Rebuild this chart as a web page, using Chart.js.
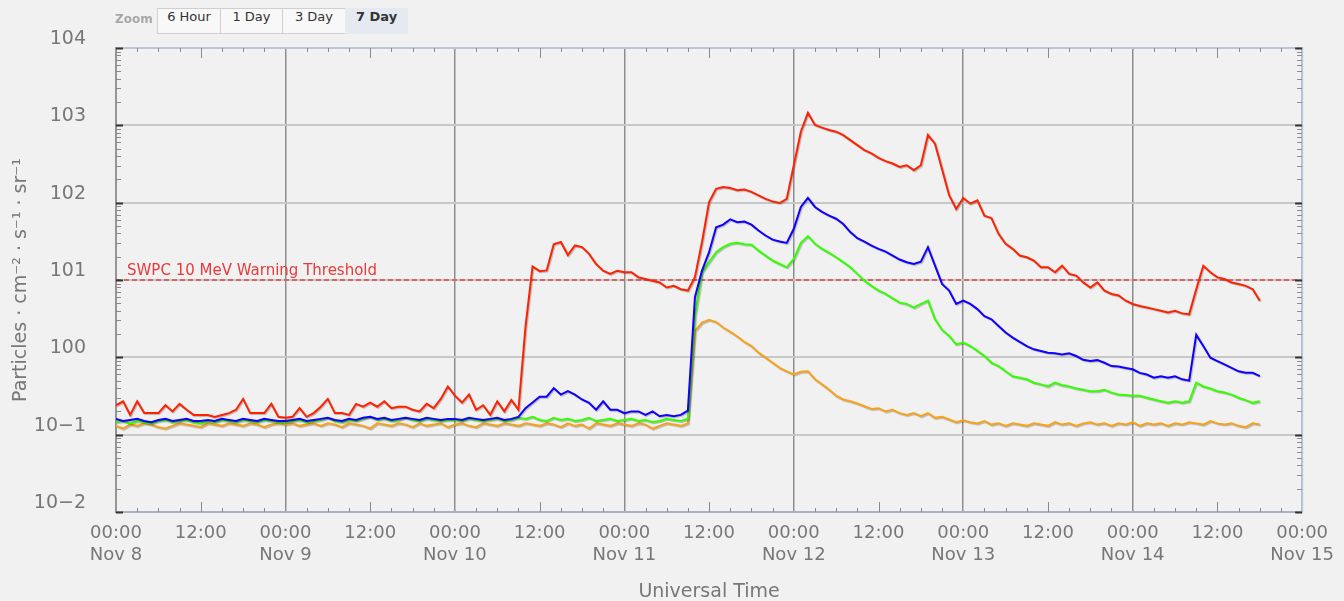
<!DOCTYPE html>
<html>
<head>
<meta charset="utf-8">
<script src="https://cdn.jsdelivr.net/npm/chart.js@4.4.1/dist/chart.umd.min.js"></script>
<style>
    html, body { margin: 0; padding: 0; background: #f1f1f1; }
    #wrap { position: relative; width: 1344px; height: 601px; overflow: hidden; }
    #myChart { position: absolute; left: 0; top: 0; }
    .zoom { position: absolute; left: 115px; top: 12px; font: bold 12px "DejaVu Sans", sans-serif; color: #a6a6a6; }
    .btns { position: absolute; left: 158px; top: 8px; display: flex; }
    .btns span { box-sizing: border-box; height: 26px; line-height: 24px; text-align: center;
                 font: 13px "DejaVu Sans", sans-serif; color: #333; background: #f8f8f8;
                 border: 1px solid #cfcfcf; margin-left: -1px; }
    .btns span.on { background: #e5e9f1; font-weight: bold; border-color: #e5e9f1; }
</style>
</head>
<body>
<div id="wrap">
    <canvas id="myChart" width="1344" height="601"></canvas>
    <div class="zoom">Zoom</div>
    <div class="btns">
        <span style="width:64px">6 Hour</span>
        <span style="width:63px">1 Day</span>
        <span style="width:64px">3 Day</span>
        <span class="on" style="width:63px">7 Day</span>
    </div>
</div>
<script>
// hourly flux readings, starting Nov 8 00:00 UT (one value per hour)
const days = ['Nov 8', 'Nov 9', 'Nov 10', 'Nov 11', 'Nov 12', 'Nov 13', 'Nov 14', 'Nov 15'];
const decades = [-2, -1, 0, 1, 2, 3, 4];
const threshold = 10;
const thresholdLabel = 'SWPC 10 MeV Warning Threshold';

const p10 = [
    0.24,0.27,0.18,0.27,0.19,0.19,0.19,0.24,0.20,0.25,0.21,0.18,0.18,0.18,0.17,0.18,0.19,0.21,0.29,0.19,0.19,0.19,0.25,0.17,
    0.165,0.17,0.22,0.17,0.19,0.23,0.29,0.19,0.19,0.18,0.25,0.23,0.26,0.23,0.27,0.22,0.23,0.23,0.21,0.20,0.25,0.22,0.29,0.42,
    0.32,0.26,0.33,0.21,0.24,0.18,0.27,0.20,0.28,0.21,2.5,15,13,13.3,29,31,21,28,26.6,21.8,16.1,13.2,12.0,13.2,
    12.6,12.6,10.8,10.3,9.8,9.3,8.0,8.4,7.6,7.3,10.9,31,102,151,159,155,145,148,138,124,112,104,99,112,
    305,828,1450,1010,933,869,828,748,645,555,478,433,380,344,321,290,305,263,305,750,580,270,125,83,
    115,97,107,68,63,39.5,29.4,25.3,20.7,19.7,17.8,14.6,14.6,12.6,15.3,12,11.4,9.3,8.0,9.3,7.3,6.6,6.3,5.4,
    4.9,4.6,4.4,4.2,4.0,3.8,4.0,3.7,3.6,7.6,15.3,12.6,10.8,10.3,9.3,8.9,8.4,7.6,5.4
];
const p50 = [
    0.16,0.15,0.155,0.16,0.15,0.145,0.155,0.16,0.15,0.155,0.16,0.15,0.15,0.155,0.15,0.16,0.155,0.15,0.16,0.155,0.15,0.16,0.155,0.15,
    0.15,0.155,0.16,0.15,0.155,0.16,0.165,0.155,0.15,0.16,0.155,0.165,0.17,0.16,0.165,0.155,0.16,0.165,0.16,0.155,0.165,0.16,0.155,0.16,
    0.16,0.155,0.165,0.16,0.155,0.16,0.165,0.155,0.16,0.17,0.22,0.26,0.31,0.31,0.40,0.33,0.365,0.33,0.285,0.258,0.21,0.27,0.21,0.21,
    0.19,0.2,0.2,0.18,0.2,0.173,0.18,0.173,0.18,0.205,6,13.2,22.9,48,52,61,56,57,52,43.6,37.6,33.3,31.4,30.2,
    46,88,115,88,76,68,62,53,41.7,34.7,31.4,27.9,25.3,23.3,20.7,18.4,17,16.1,17.3,26.6,15.3,8.9,7.3,4.9,
    5.4,4.9,4.2,3.4,3.1,2.55,2.09,1.80,1.58,1.40,1.27,1.21,1.15,1.13,1.09,1.13,1.04,0.93,0.895,0.92,0.85,0.77,0.76,0.73,
    0.70,0.63,0.60,0.545,0.57,0.545,0.57,0.52,0.50,1.95,1.40,0.99,0.895,0.81,0.73,0.66,0.63,0.63,0.57
];
const p100 = [
    0.145,0.15,0.14,0.15,0.145,0.14,0.15,0.155,0.145,0.15,0.155,0.145,0.14,0.15,0.145,0.155,0.15,0.145,0.155,0.15,0.145,0.155,0.15,0.145,
    0.145,0.15,0.155,0.145,0.15,0.155,0.165,0.15,0.145,0.155,0.15,0.16,0.17,0.155,0.16,0.15,0.155,0.165,0.155,0.15,0.16,0.155,0.15,0.155,
    0.155,0.15,0.16,0.155,0.15,0.155,0.16,0.15,0.155,0.165,0.16,0.17,0.155,0.15,0.165,0.155,0.16,0.15,0.155,0.165,0.15,0.155,0.16,0.15,
    0.155,0.16,0.15,0.155,0.145,0.15,0.16,0.155,0.15,0.16,3.4,12.5,17,22.9,26.6,29.4,30.2,29,28.5,24,20.7,17.8,16.1,14.6,
    18.7,30.2,36.9,29.4,25.3,22.4,19.7,17,14.6,12.0,9.8,8.4,7.3,6.6,5.8,5.1,4.9,4.4,4.9,5.4,3.1,2.26,1.89,1.47,
    1.55,1.40,1.21,1.04,0.85,0.77,0.66,0.57,0.545,0.52,0.47,0.447,0.42,0.47,0.436,0.42,0.395,0.38,0.365,0.365,0.38,0.35,0.33,0.325,
    0.318,0.318,0.30,0.285,0.27,0.258,0.27,0.258,0.27,0.47,0.42,0.395,0.365,0.35,0.33,0.30,0.28,0.258,0.27
];
const p500 = [
    0.13,0.12,0.135,0.13,0.14,0.135,0.125,0.12,0.13,0.14,0.135,0.13,0.125,0.14,0.135,0.13,0.14,0.135,0.13,0.14,0.135,0.125,0.135,0.14,
    0.135,0.14,0.13,0.135,0.14,0.13,0.14,0.135,0.125,0.14,0.135,0.13,0.12,0.14,0.135,0.13,0.14,0.135,0.125,0.14,0.13,0.135,0.14,0.125,
    0.135,0.14,0.13,0.125,0.14,0.135,0.13,0.14,0.135,0.13,0.14,0.135,0.13,0.14,0.135,0.125,0.14,0.13,0.135,0.12,0.14,0.135,0.13,0.14,
    0.135,0.13,0.14,0.135,0.12,0.13,0.14,0.135,0.13,0.14,2.2,2.82,3.05,2.86,2.43,2.13,1.86,1.58,1.40,1.15,0.99,0.85,0.73,0.66,
    0.60,0.65,0.66,0.52,0.447,0.38,0.318,0.285,0.27,0.253,0.233,0.215,0.22,0.2,0.21,0.19,0.18,0.19,0.173,0.19,0.165,0.17,0.157,0.145,
    0.153,0.145,0.14,0.15,0.135,0.14,0.13,0.14,0.135,0.13,0.14,0.135,0.13,0.145,0.135,0.14,0.13,0.14,0.145,0.135,0.14,0.13,0.14,0.135,
    0.145,0.13,0.14,0.135,0.14,0.13,0.14,0.135,0.145,0.14,0.135,0.15,0.14,0.135,0.14,0.13,0.125,0.14,0.135
];

function points(values) {
    return values.map((v, i) => ({x: i, y: v}));
}

function series(label, values, color) {
    return {
        label: label,
        data: points(values),
        borderColor: color,
        borderWidth: 2,
        pointRadius: 0,
        tension: 0,
        shadow: true
    };
}

// shadows under the curves, tick marks, frame and threshold text
const extras = {
    id: 'extras',
    beforeDatasetDraw(chart, args) {
        const ctx = chart.ctx;
        ctx.save();
        if (chart.data.datasets[args.index].shadow) {
            ctx.shadowColor = 'rgba(0,0,0,0.25)';
            ctx.shadowOffsetX = 1;
            ctx.shadowOffsetY = 1;
            ctx.shadowBlur = 1;
        }
    },
    afterDatasetDraw(chart) {
        chart.ctx.restore();
    },
    afterDraw(chart) {
        const {ctx, chartArea: a, scales: {x, y}} = chart;
        ctx.save();

        ctx.strokeStyle = '#bcc5d5';
        ctx.lineWidth = 2;
        ctx.beginPath();
        ctx.moveTo(a.left, a.top);
        ctx.lineTo(a.right, a.top);
        ctx.lineTo(a.right, a.bottom);
        ctx.stroke();

        decades.forEach(e => {
            for (let m = 1; m <= 9; m++) {
                if (e === 4 && m > 1) break;
                const py = Math.round(y.getPixelForValue(m * Math.pow(10, e))) + 0.5;
                const len = m === 1 ? 7 : 5;
                ctx.strokeStyle = m === 1 ? '#333' : '#8a8a8a';
                ctx.lineWidth = m === 1 ? 2 : 1;
                ctx.beginPath();
                ctx.moveTo(a.left, py); ctx.lineTo(a.left + len, py);
                ctx.moveTo(a.right, py); ctx.lineTo(a.right - len, py);
                ctx.stroke();
            }
        });

        ctx.strokeStyle = '#8a8a8a';
        ctx.lineWidth = 1;
        for (let h = 3; h < 168; h += 3) {
            if (h % 24 === 0) continue;
            const px = Math.round(x.getPixelForValue(h)) + 0.5;
            const len = h % 12 === 0 ? 10 : 4;
            ctx.beginPath();
            ctx.moveTo(px, a.bottom); ctx.lineTo(px, a.bottom - len);
            ctx.moveTo(px, a.top); ctx.lineTo(px, a.top + len);
            ctx.stroke();
        }

        ctx.fillStyle = '#e83a3a';
        ctx.font = '15px "DejaVu Sans"';
        ctx.textBaseline = 'alphabetic';
        ctx.fillText(thresholdLabel, a.left + 11, y.getPixelForValue(threshold) - 5);
        ctx.restore();
    }
};

Chart.defaults.font.family = '"DejaVu Sans", sans-serif';

const ctx = document.getElementById('myChart').getContext('2d');
const myChart = new Chart(ctx, {
    type: 'line',
    data: {
        datasets: [
            series('>=10 MeV', p10, '#ff2200'),
            series('>=50 MeV', p50, '#1000ff'),
            series('>=100 MeV', p100, '#33ff00'),
            series('>=500 MeV', p500, '#f7a21c'),
            {
                label: 'threshold',
                data: [{x: 0, y: threshold}, {x: 168, y: threshold}],
                borderColor: '#d94545',
                borderWidth: 1.5,
                borderDash: [5, 3],
                pointRadius: 0
            }
        ]
    },
    plugins: [extras],
    options: {
        responsive: false,
        animation: false,
        devicePixelRatio: 1,
        layout: {padding: {left: 0, top: 48, right: 39, bottom: 0}},
        plugins: {
            legend: {display: false},
            tooltip: {enabled: false}
        },
        scales: {
            x: {
                type: 'linear',
                min: 0,
                max: 168,
                afterBuildTicks: s => {
                    const t = [];
                    for (let h = 0; h <= 168; h += 12) t.push({value: h});
                    s.ticks = t;
                },
                afterFit: s => { s.height = 89; },
                grid: {
                    color: c => (c.tick && c.tick.value % 24 === 0) ? '#8d8d8d' : 'rgba(0,0,0,0)',
                    lineWidth: 1.5,
                    drawTicks: false
                },
                border: {color: '#a9b2c2', width: 2},
                ticks: {
                    autoSkip: false,
                    maxRotation: 0,
                    padding: 10,
                    color: '#777',
                    font: {size: 18, lineHeight: 1.25},
                    callback: v => v % 24 === 0 ? ['00:00', days[v / 24]] : ['12:00']
                },
                title: {
                    display: true,
                    text: 'Universal Time',
                    color: '#777',
                    font: {size: 19},
                    padding: {top: 0, bottom: -2}
                }
            },
            y: {
                type: 'logarithmic',
                min: 0.01,
                max: 10000,
                afterBuildTicks: s => { s.ticks = decades.map(e => ({value: Math.pow(10, e)})); },
                afterFit: s => { s.width = 116; },
                grid: {color: '#c8c8c8', lineWidth: 2, drawTicks: false},
                border: {color: '#959595', width: 2},
                ticks: {
                    padding: 30,
                    labelOffset: -9,
                    color: '#777',
                    font: {size: 19},
                    callback: v => {
                        const e = Math.round(Math.log10(v));
                        return '10' + (e < 0 ? '\u2212' + (-e) : e);
                    }
                },
                title: {
                    display: true,
                    text: 'Particles \u00b7 cm\u207b\u00b2 \u00b7 s\u207b\u00b9 \u00b7 sr\u207b\u00b9',
                    color: '#777',
                    font: {size: 19},
                    padding: {top: 10, bottom: 0}
                }
            }
        }
    }
});
</script>
</body>
</html>
